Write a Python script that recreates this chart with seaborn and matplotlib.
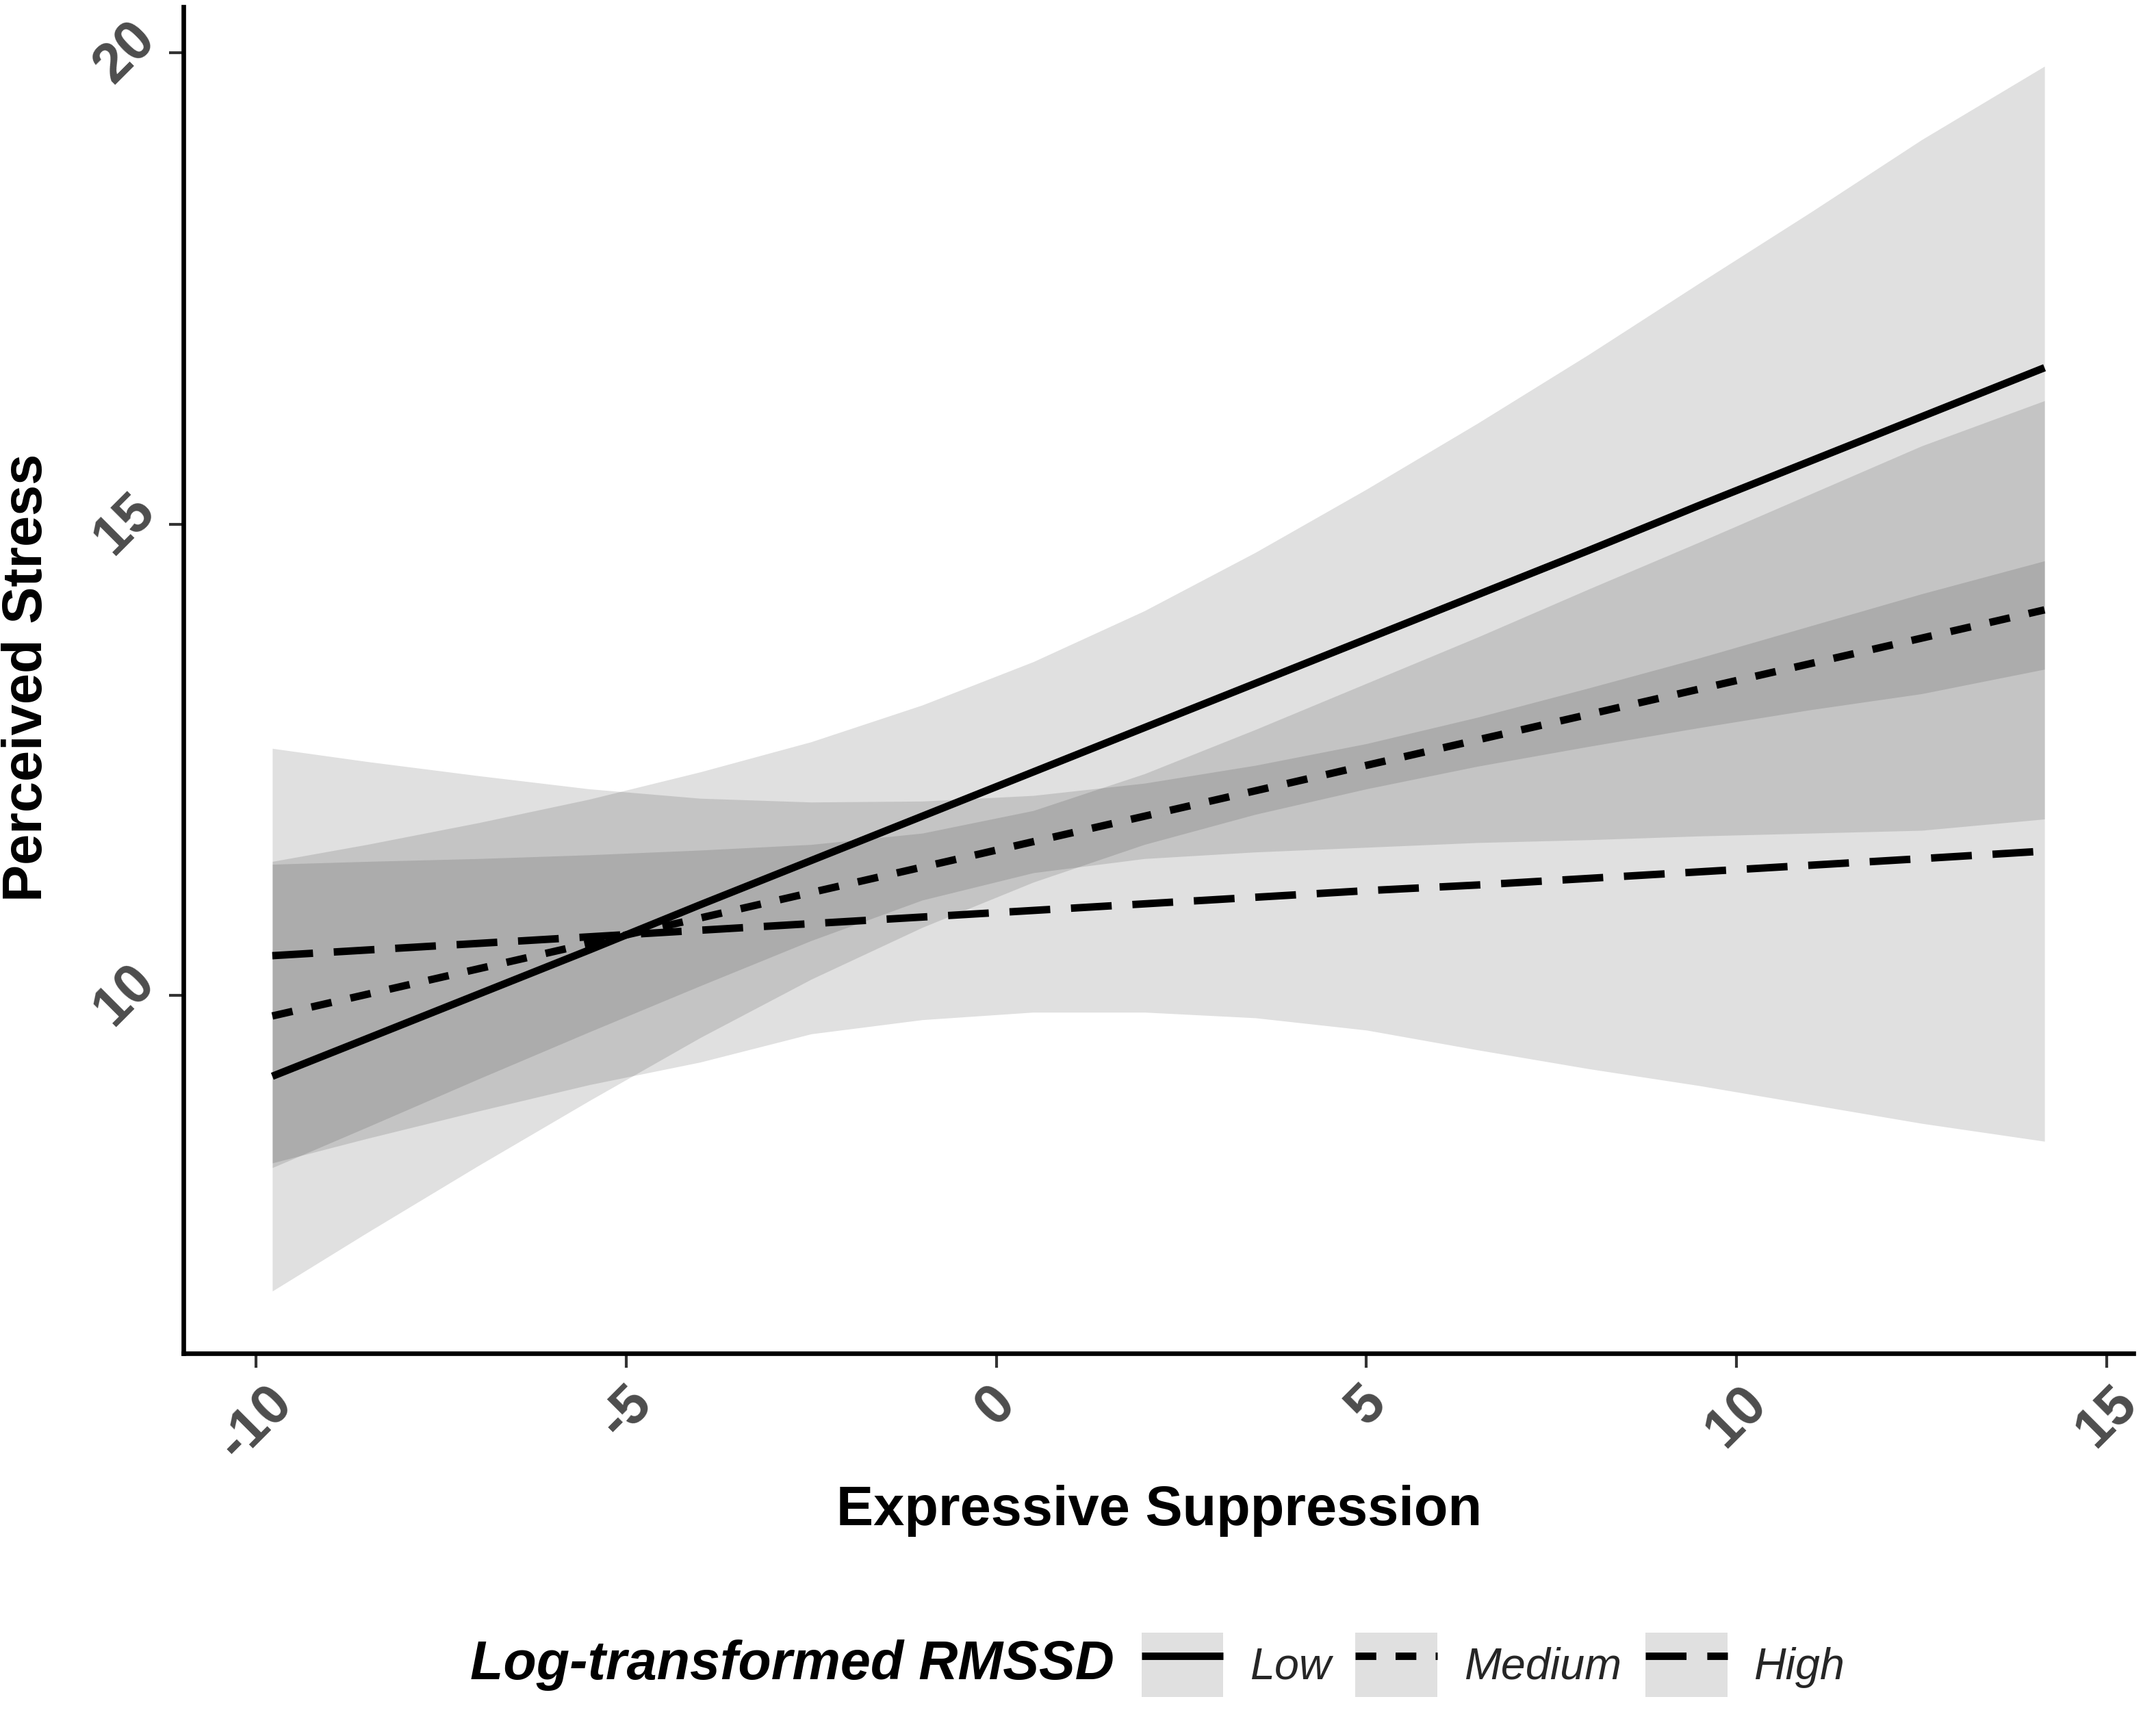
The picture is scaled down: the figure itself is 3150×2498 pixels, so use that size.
import matplotlib
matplotlib.use("Agg")
import matplotlib.pyplot as plt
import seaborn as sns
import pandas as pd
from matplotlib.patches import Patch
from matplotlib.lines import Line2D

# ---------------- data ----------------
levels = ["Low", "Medium", "High"]
x_vals = [-9.78, -8.5, -7, -5.5, -4, -2.5, -1, 0.5, 2, 3.5, 5, 6.5, 8, 9.5, 11, 12.5, 14.16]

low_fit = [9.14, 9.54, 10.01, 10.48, 10.96, 11.43, 11.90, 12.37, 12.84, 13.31, 13.78,
           14.25, 14.72, 15.20, 15.67, 16.14, 16.66]
low_lower = [6.86, 7.48, 8.19, 8.88, 9.55, 10.17, 10.72, 11.20, 11.60, 11.92, 12.19,
             12.43, 12.64, 12.84, 13.03, 13.20, 13.46]
low_upper = [11.42, 11.60, 11.83, 12.08, 12.37, 12.69, 13.08, 13.54, 14.08, 14.70, 15.37,
             16.07, 16.80, 17.56, 18.31, 19.08, 19.86]

med_fit = [9.78, 10.01, 10.28, 10.55, 10.82, 11.09, 11.36, 11.63, 11.90, 12.17, 12.44,
           12.71, 12.98, 13.25, 13.52, 13.79, 14.09]
med_lower = [8.17, 8.60, 9.11, 9.61, 10.10, 10.58, 11.01, 11.30, 11.45, 11.52, 11.57,
             11.62, 11.65, 11.69, 11.72, 11.75, 11.87]
med_upper = [11.39, 11.42, 11.45, 11.49, 11.54, 11.60, 11.72, 11.96, 12.35, 12.82, 13.31,
             13.80, 14.31, 14.81, 15.32, 15.83, 16.31]

high_fit = [10.42, 10.48, 10.55, 10.62, 10.69, 10.76, 10.83, 10.90, 10.97, 11.04, 11.11,
            11.17, 11.24, 11.31, 11.38, 11.45, 11.53]
high_lower = [8.22, 8.48, 8.77, 9.05, 9.29, 9.59, 9.74, 9.82, 9.82, 9.76, 9.63,
              9.42, 9.22, 9.04, 8.84, 8.64, 8.45]
high_upper = [12.62, 12.48, 12.33, 12.19, 12.09, 12.05, 12.06, 12.12, 12.25, 12.44, 12.67,
              12.95, 13.26, 13.58, 13.92, 14.26, 14.61]

x_ticks = [-10, -5, 0, 5, 10, 15]
y_ticks = [10, 15, 20]
x_label = "Expressive Suppression"
y_label = "Perceived Stress"
legend_title = "Log-transformed RMSSD"

# ---------------- build table ----------------
rows = []
for lvl, fit, lo, hi in [("Low", low_fit, low_lower, low_upper),
                         ("Medium", med_fit, med_lower, med_upper),
                         ("High", high_fit, high_lower, high_upper)]:
    for xv, f, l, h in zip(x_vals, fit, lo, hi):
        rows.append({"level": lvl, "x": xv, "fit": f, "lower": l, "upper": h})
df = pd.DataFrame(rows)

# ---------------- style ----------------
sns.set_style("white")
plt.rcParams["font.family"] = ["Liberation Sans", "DejaVu Sans"]

fig = plt.figure(figsize=(10.5, 2498 / 300), dpi=300)
ax = fig.add_axes([0.0851, 0.2086, 0.9895 - 0.0851, 0.996 - 0.2086])

LW = 2.6
dashes = {"Low": "", "Medium": (2.8, 2.6), "High": (5.5, 2.8)}
ribbon_alpha = 0.12

for lvl in levels:
    sub = df[df["level"] == lvl]
    ax.fill_between(sub["x"], sub["lower"], sub["upper"], color="black",
                    alpha=ribbon_alpha, lw=0, zorder=1)

sns.lineplot(data=df, x="x", y="fit", style="level", style_order=levels,
             dashes=dashes, color="black", linewidth=LW, legend=False,
             estimator=None, sort=True, ax=ax, zorder=3)
for ln in ax.get_lines():
    ln.set_dash_capstyle("butt")
    ln.set_solid_capstyle("butt")

ax.set_xlim(-10.98, 15.36)
ax.set_ylim(6.20, 20.49)
ax.set_xticks(x_ticks)
ax.set_yticks(y_ticks)
ax.set_xticklabels([str(t) for t in x_ticks], rotation=45, ha="center", va="top")
ax.set_yticklabels([str(t) for t in y_ticks], rotation=45, ha="right", va="center")
for lab in ax.get_xticklabels() + ax.get_yticklabels():
    lab.set_fontsize(19.5)
    lab.set_fontweight("bold")
    lab.set_color("#4d4d4d")

ax.tick_params(axis="both", which="major", length=5, width=1.0, color="#333333",
               direction="out", bottom=True, left=True)
ax.tick_params(axis="x", pad=3)
ax.tick_params(axis="y", pad=1.5)
for side in ["top", "right"]:
    ax.spines[side].set_visible(False)
for side in ["left", "bottom"]:
    ax.spines[side].set_color("black")
    ax.spines[side].set_linewidth(1.6)

ax.set_xlabel(x_label, fontsize=19.5, fontweight="bold", color="black")
ax.set_ylabel(y_label, fontsize=19.5, fontweight="bold", color="black")
ax.xaxis.set_label_coords(0.5005, -0.117)
ax.yaxis.set_label_coords(-0.080, 0.502)
ax.xaxis.label.set_va("center")
ax.yaxis.label.set_va("center")

# ---------------- legend ----------------
handles = []
for lvl in levels:
    patch = Patch(facecolor=(0, 0, 0, ribbon_alpha), edgecolor="none")
    if dashes[lvl] == "":
        line = Line2D([], [], color="black", lw=LW, solid_capstyle="butt")
    else:
        line = Line2D([], [], color="black", lw=LW, dashes=dashes[lvl],
                      dash_capstyle="butt")
    handles.append((patch, line))

fig.text(1628 / 3150, 1 - 2432 / 2498, legend_title, ha="right", va="center",
         fontsize=19, fontweight="bold", fontstyle="italic", color="black")
leg = fig.legend(handles, levels, loc="center left",
                 bbox_to_anchor=(1668 / 3150, 1 - 2432 / 2498), ncol=3,
                 frameon=False, borderpad=0, borderaxespad=0,
                 handlelength=1.85, handleheight=1.85, handletextpad=0.6,
                 columnspacing=0.55, prop={"size": 15.5, "style": "italic"})

fig.savefig("out.png", dpi=300)
